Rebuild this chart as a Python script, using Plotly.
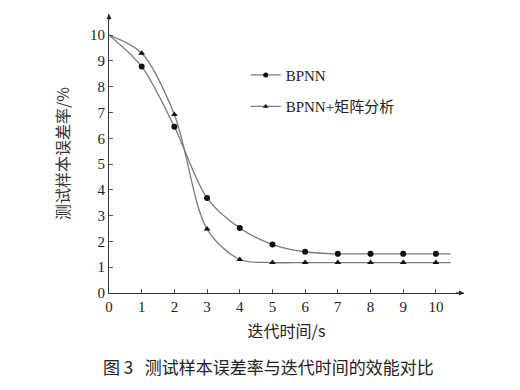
import plotly.graph_objects as go

# ---- data ----
iters = [1, 2, 3, 4, 5, 6, 7, 8, 9, 10]
bpnn = [8.78, 6.45, 3.68, 2.52, 1.88, 1.60, 1.52, 1.52, 1.52, 1.52]
bpnn_mat = [9.30, 6.92, 2.48, 1.30, 1.18, 1.18, 1.18, 1.18, 1.18, 1.18]
start_x, start_y = 0, 10.0
end_x = 10.45
x_ticks = list(range(0, 11))
y_ticks = list(range(0, 11))
names = ["BPNN", "BPNN+矩阵分析"]
x_title = "迭代时间/s"
y_title = "测试样本误差率/%"
caption = "图 3   测试样本误差率与迭代时间的效能对比"

LINE_C = "#7a7a7a"
MARK_C = "#111111"
SERIF = "Liberation Serif, Times New Roman, Noto Sans CJK SC, serif"
CJK = "Noto Sans CJK SC, sans-serif"

fig = go.Figure()
for vals, sym, nm in [(bpnn, "circle", names[0]), (bpnn_mat, "triangle-up", names[1])]:
    cx = [start_x] + iters + [end_x]
    cy = [start_y] + vals + [vals[-1]]
    fig.add_trace(go.Scatter(x=cx, y=cy, mode="lines", line=dict(color=LINE_C, width=1.3, shape="spline", smoothing=0.9),
                             showlegend=False, hoverinfo="skip"))
    fig.add_trace(go.Scatter(x=iters, y=vals, mode="markers",
                             marker=dict(symbol=sym, size=6, color=MARK_C),
                             showlegend=False))
    fig.add_trace(go.Scatter(x=[None], y=[None], mode="lines+markers", name=nm, legendgroup=nm,
                             line=dict(color=LINE_C, width=1.3),
                             marker=dict(symbol=sym, size=5, color=MARK_C)))

x_max = 10.86
y_max = 10.82

fig.update_layout(
    width=520, height=390,
    margin=dict(l=109, r=56, t=14, b=97),
    paper_bgcolor="white", plot_bgcolor="white",
    font=dict(family=SERIF, size=15, color="#222"),
    legend=dict(x=0.385, y=0.84, xanchor="left", yanchor="top", bgcolor="rgba(0,0,0,0)",
                font=dict(family=SERIF, size=15, color="#222"), itemwidth=30,
                tracegroupgap=9, traceorder="grouped"),
    xaxis=dict(range=[0, x_max], tickvals=x_ticks, ticktext=[str(v) for v in x_ticks],
               showgrid=False, zeroline=False, showline=True, linecolor="#333", linewidth=1,
               ticks="inside", ticklen=4, tickcolor="#555", tickfont=dict(family=SERIF, size=15, color="#222"),
               title=dict(text=x_title, font=dict(family=CJK, size=16, color="#222"), standoff=11)),
    yaxis=dict(range=[0, y_max], tickvals=y_ticks, ticktext=[str(v) for v in y_ticks],
               showgrid=False, zeroline=False, showline=True, linecolor="#333", linewidth=1,
               ticks="inside", ticklen=4, tickcolor="#555", tickfont=dict(family=SERIF, size=15, color="#222"),
               title=dict(text=y_title, font=dict(family=CJK, size=16, color="#333"), standoff=16)),
)

# axis arrows
fig.add_annotation(x=x_max, y=0, ax=x_max - 0.3, ay=0, xref="x", yref="y", axref="x", ayref="y",
                   showarrow=True, arrowhead=2, arrowsize=1, arrowwidth=1, arrowcolor="#222", text="")
fig.add_annotation(x=0, y=y_max, ax=0, ay=y_max - 0.3, xref="x", yref="y", axref="x", ayref="y",
                   showarrow=True, arrowhead=2, arrowsize=1, arrowwidth=1, arrowcolor="#222", text="")

fig.add_annotation(text=caption, xref="paper", yref="paper", x=0.45, y=-0.265, xanchor="center", yanchor="middle",
                   showarrow=False, font=dict(family=CJK, size=17, color="#222"))

fig.write_html("out.html")
